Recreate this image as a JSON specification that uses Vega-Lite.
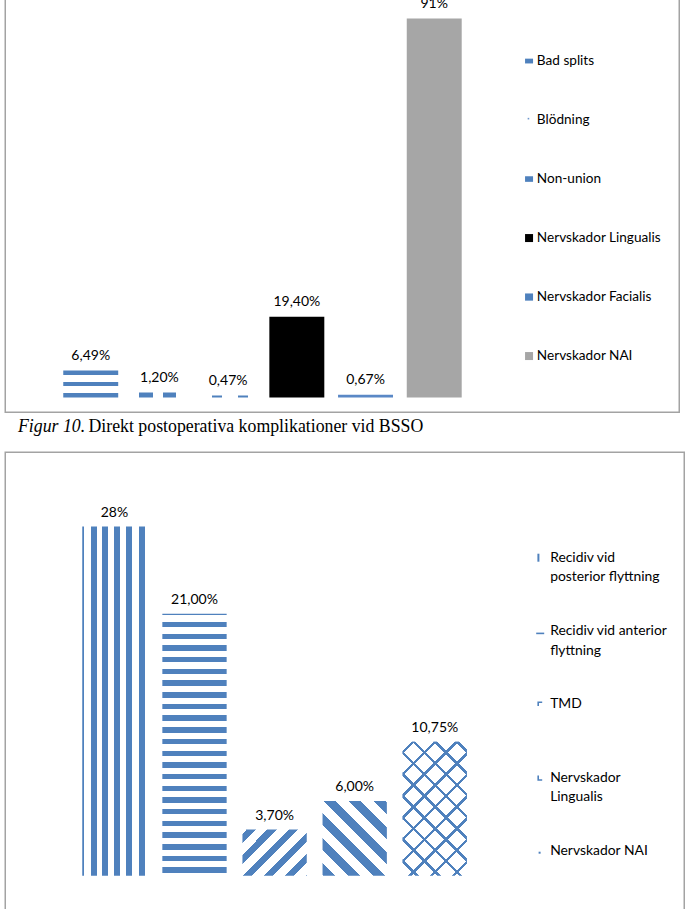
{
  "$schema": "https://vega.github.io/schema/vega-lite/v6.json",
  "background": "#ffffff",
  "padding": {"left": 4.25, "top": -8.75, "right": 0, "bottom": 0},
  "spacing": 5,
  "config": {
    "view": {"stroke": "#a3a3a3", "strokeWidth": 1.5},
    "font": "Lato",
    "style": {"guide-label": {"lineHeight": 19.5}}
  },
  "resolve": {
    "scale": {"x": "independent", "y": "independent", "color": "independent", "shape": "independent"},
    "legend": {"color": "independent", "shape": "independent"}
  },
  "datasets": {
    "topp": [
      {"komplikation": "Bad splits", "andel": 6.49, "etikett": "6,49%"},
      {"komplikation": "Blödning", "andel": 1.2, "etikett": "1,20%"},
      {"komplikation": "Non-union", "andel": 0.47, "etikett": "0,47%"},
      {"komplikation": "Nervskador Lingualis", "andel": 19.4, "etikett": "19,40%"},
      {"komplikation": "Nervskador Facialis", "andel": 0.67, "etikett": "0,67%"},
      {"komplikation": "Nervskador NAI", "andel": 91, "etikett": "91%"}
    ],
    "rubrik": [
      {"figur": "Figur 10.", "text": "Direkt postoperativa komplikationer vid BSSO"}
    ],
    "botten": [
      {"komplikation": "Recidiv vid posterior flyttning", "andel": 28, "etikett": "28%"},
      {"komplikation": "Recidiv vid anterior flyttning", "andel": 21, "etikett": "21,00%"},
      {"komplikation": "TMD", "andel": 3.7, "etikett": "3,70%"},
      {"komplikation": "Nervskador Lingualis", "andel": 6, "etikett": "6,00%"},
      {"komplikation": "Nervskador NAI", "andel": 10.75, "etikett": "10,75%"}
    ]
  },
  "vconcat": [
    {
      "width": 674,
      "height": 420,
      "data": {"name": "topp"},
      "encoding": {
        "x": {"field": "komplikation", "type": "nominal", "sort": null, "axis": null,
          "scale": {"domain": ["Bad splits", "Blödning", "Non-union", "Nervskador Lingualis", "Nervskador Facialis", "Nervskador NAI"], "range": [51.13, 463.33], "paddingInner": 0.2, "paddingOuter": 0.1}},
        "y": {"field": "andel", "type": "quantitative", "axis": null,
          "scale": {"domain": [-3.53, 97.32], "nice": false, "zero": false}}
      },
      "layer": [
        {"transform": [{"filter": "datum.komplikation === 'Bad splits'"}],
         "mark": {"type": "bar", "fill": {"gradient": "linear", "x1": 0, "y1": 0, "x2": 0, "y2": 1, "stops": [
           {"offset": 0, "color": "#4F81BD"}, {"offset": 0.15, "color": "#4F81BD"}, {"offset": 0.15, "color": "#FFFFFF"},
           {"offset": 0.41, "color": "#FFFFFF"}, {"offset": 0.41, "color": "#4F81BD"}, {"offset": 0.56, "color": "#4F81BD"},
           {"offset": 0.56, "color": "#FFFFFF"}, {"offset": 0.85, "color": "#FFFFFF"}, {"offset": 0.85, "color": "#4F81BD"},
           {"offset": 1, "color": "#4F81BD"}]}}},
        {"transform": [{"filter": "datum.komplikation === 'Blödning'"}],
         "mark": {"type": "bar", "fill": {"gradient": "linear", "x1": 0, "y1": 0, "x2": 1, "y2": 0, "stops": [
           {"offset": 0, "color": "#FFFFFF"}, {"offset": 0.136, "color": "#FFFFFF"}, {"offset": 0.136, "color": "#4F81BD"},
           {"offset": 0.39, "color": "#4F81BD"}, {"offset": 0.39, "color": "#FFFFFF"}, {"offset": 0.573, "color": "#FFFFFF"},
           {"offset": 0.573, "color": "#4F81BD"}, {"offset": 0.809, "color": "#4F81BD"}, {"offset": 0.809, "color": "#FFFFFF"},
           {"offset": 1, "color": "#FFFFFF"}]}}},
        {"transform": [{"filter": "datum.komplikation === 'Non-union'"}],
         "mark": {"type": "bar", "fill": {"gradient": "linear", "x1": 0, "y1": 0, "x2": 1, "y2": 0, "stops": [
           {"offset": 0, "color": "#FFFFFF"}, {"offset": 0.209, "color": "#FFFFFF"}, {"offset": 0.209, "color": "#4F81BD"},
           {"offset": 0.39, "color": "#4F81BD"}, {"offset": 0.39, "color": "#FFFFFF"}, {"offset": 0.68, "color": "#FFFFFF"},
           {"offset": 0.68, "color": "#4F81BD"}, {"offset": 0.864, "color": "#4F81BD"}, {"offset": 0.864, "color": "#FFFFFF"},
           {"offset": 1, "color": "#FFFFFF"}]}}},
        {"transform": [{"filter": "datum.komplikation === 'Nervskador Lingualis'"}],
         "mark": {"type": "bar", "fill": "#000000"}},
        {"transform": [{"filter": "datum.komplikation === 'Nervskador Facialis'"}],
         "mark": {"type": "bar", "fill": "#5A88C6"}},
        {"transform": [{"filter": "datum.komplikation === 'Nervskador NAI'"}],
         "mark": {"type": "bar", "fill": "#A6A6A6"}},
        {"mark": {"type": "text", "baseline": "alphabetic", "dy": -10.5, "fontSize": 14, "font": "Lato", "color": "#000000"},
         "encoding": {"text": {"field": "etikett", "type": "nominal"}}},
        {"mark": {"type": "point", "filled": true, "opacity": 0, "size": 64},
         "encoding": {
           "color": {"field": "komplikation", "type": "nominal", "sort": null,
             "scale": {"domain": ["Bad splits", "Blödning", "Non-union", "Nervskador Lingualis", "Nervskador Facialis", "Nervskador NAI"],
                       "range": ["#4F81BD", "#6F97CC", "#4F81BD", "#000000", "#4F81BD", "#A6A6A6"]},
             "legend": {"orient": "none", "legendX": 517, "legendY": 62, "title": null, "symbolSize": 64, "symbolOpacity": 1, "symbolStrokeWidth": 0,
                        "labelFont": "Lato", "labelFontSize": 13.6, "labelColor": "#000000", "labelOffset": 1, "rowPadding": 44, "padding": 0, "labelLimit": 200}},
           "shape": {"field": "komplikation", "type": "nominal", "sort": null,
             "scale": {"domain": ["Bad splits", "Blödning", "Non-union", "Nervskador Lingualis", "Nervskador Facialis", "Nervskador NAI"],
                       "range": ["M-1,-0.6H1V0.6H-1Z", "M-0.35,-0.55H0.05V-0.15H-0.35Z", "M-1,-0.7H1V0.7H-1Z", "M-1,-1H1V1H-1Z", "M-1,-0.9H1V0.9H-1Z", "M-1,-1H1V1H-1Z"]},
             "legend": {"orient": "none", "legendX": 517, "legendY": 62, "title": null, "symbolSize": 64, "symbolOpacity": 1, "symbolStrokeWidth": 0,
                        "labelFont": "Lato", "labelFontSize": 13.6, "labelColor": "#000000", "labelOffset": 1, "rowPadding": 44, "padding": 0, "labelLimit": 200}}
         }}
      ]
    },
    {
      "width": 25.5,
      "height": 28,
      "view": {"stroke": null, "fill": "#ffffff"},
      "data": {"name": "rubrik"},
      "layer": [
        {"mark": {"type": "text", "align": "left", "baseline": "alphabetic", "font": "Liberation Serif", "fontSize": 17.8, "fontStyle": "italic", "color": "#000000"},
         "encoding": {"text": {"field": "figur", "type": "nominal"}}},
        {"mark": {"type": "text", "align": "left", "baseline": "alphabetic", "font": "Liberation Serif", "fontSize": 17.8, "dx": 70.5, "color": "#000000"},
         "encoding": {"text": {"field": "text", "type": "nominal"}}}
      ]
    },
    {
      "width": 679,
      "height": 465,
      "data": {"name": "botten"},
      "encoding": {
        "x": {"field": "komplikation", "type": "nominal", "sort": null, "axis": null,
          "scale": {"domain": ["Recidiv vid posterior flyttning", "Recidiv vid anterior flyttning", "TMD", "Nervskador Lingualis", "Nervskador NAI"], "range": [69.1, 469.6], "paddingInner": 0.197, "paddingOuter": 0.0985}},
        "y": {"field": "andel", "type": "quantitative", "axis": null,
          "scale": {"domain": [-3.33, 33.96], "nice": false, "zero": false}}
      },
      "layer": [
        {"transform": [{"filter": "datum.komplikation === 'Recidiv vid posterior flyttning'"}],
         "mark": {"type": "bar", "fill": {"gradient": "linear", "x1": 0, "y1": 0, "x2": 1, "y2": 0, "stops": [
           {"offset": 0, "color": "#4F81BD"}, {"offset": 0.03, "color": "#4F81BD"}, {"offset": 0.03, "color": "#FFFFFF"},
           {"offset": 0.133, "color": "#FFFFFF"}, {"offset": 0.133, "color": "#4F81BD"}, {"offset": 0.227, "color": "#4F81BD"}, {"offset": 0.227, "color": "#FFFFFF"},
           {"offset": 0.313, "color": "#FFFFFF"}, {"offset": 0.313, "color": "#4F81BD"}, {"offset": 0.406, "color": "#4F81BD"}, {"offset": 0.406, "color": "#FFFFFF"},
           {"offset": 0.5, "color": "#FFFFFF"}, {"offset": 0.5, "color": "#4F81BD"}, {"offset": 0.594, "color": "#4F81BD"}, {"offset": 0.594, "color": "#FFFFFF"},
           {"offset": 0.6875, "color": "#FFFFFF"}, {"offset": 0.6875, "color": "#4F81BD"}, {"offset": 0.781, "color": "#4F81BD"}, {"offset": 0.781, "color": "#FFFFFF"},
           {"offset": 0.875, "color": "#FFFFFF"}, {"offset": 0.875, "color": "#4F81BD"}, {"offset": 0.969, "color": "#4F81BD"}, {"offset": 0.969, "color": "#FFFFFF"},
           {"offset": 1, "color": "#FFFFFF"}]}}},
        {"transform": [{"filter": "datum.komplikation === 'Recidiv vid anterior flyttning'"}],
         "mark": {"type": "bar", "fill": {"gradient": "linear", "x1": 0, "y1": 0, "x2": 0, "y2": 1, "stops": [
           {"offset": 0, "color": "#4F81BD"}, {"offset": 0.006, "color": "#4F81BD"}, {"offset": 0.006, "color": "#FFFFFF"},
           {"offset": 0.0305, "color": "#FFFFFF"}, {"offset": 0.0305, "color": "#4F81BD"}, {"offset": 0.0515, "color": "#4F81BD"}, {"offset": 0.0515, "color": "#FFFFFF"},
           {"offset": 0.0752, "color": "#FFFFFF"}, {"offset": 0.0752, "color": "#4F81BD"}, {"offset": 0.0962, "color": "#4F81BD"}, {"offset": 0.0962, "color": "#FFFFFF"},
           {"offset": 0.1198, "color": "#FFFFFF"}, {"offset": 0.1198, "color": "#4F81BD"}, {"offset": 0.1408, "color": "#4F81BD"}, {"offset": 0.1408, "color": "#FFFFFF"},
           {"offset": 0.1645, "color": "#FFFFFF"}, {"offset": 0.1645, "color": "#4F81BD"}, {"offset": 0.1855, "color": "#4F81BD"}, {"offset": 0.1855, "color": "#FFFFFF"},
           {"offset": 0.2092, "color": "#FFFFFF"}, {"offset": 0.2092, "color": "#4F81BD"}, {"offset": 0.2302, "color": "#4F81BD"}, {"offset": 0.2302, "color": "#FFFFFF"},
           {"offset": 0.2538, "color": "#FFFFFF"}, {"offset": 0.2538, "color": "#4F81BD"}, {"offset": 0.2748, "color": "#4F81BD"}, {"offset": 0.2748, "color": "#FFFFFF"},
           {"offset": 0.2985, "color": "#FFFFFF"}, {"offset": 0.2985, "color": "#4F81BD"}, {"offset": 0.3195, "color": "#4F81BD"}, {"offset": 0.3195, "color": "#FFFFFF"},
           {"offset": 0.3431, "color": "#FFFFFF"}, {"offset": 0.3431, "color": "#4F81BD"}, {"offset": 0.3641, "color": "#4F81BD"}, {"offset": 0.3641, "color": "#FFFFFF"},
           {"offset": 0.3878, "color": "#FFFFFF"}, {"offset": 0.3878, "color": "#4F81BD"}, {"offset": 0.4088, "color": "#4F81BD"}, {"offset": 0.4088, "color": "#FFFFFF"},
           {"offset": 0.4324, "color": "#FFFFFF"}, {"offset": 0.4324, "color": "#4F81BD"}, {"offset": 0.4534, "color": "#4F81BD"}, {"offset": 0.4534, "color": "#FFFFFF"},
           {"offset": 0.4771, "color": "#FFFFFF"}, {"offset": 0.4771, "color": "#4F81BD"}, {"offset": 0.4981, "color": "#4F81BD"}, {"offset": 0.4981, "color": "#FFFFFF"},
           {"offset": 0.5218, "color": "#FFFFFF"}, {"offset": 0.5218, "color": "#4F81BD"}, {"offset": 0.5427, "color": "#4F81BD"}, {"offset": 0.5427, "color": "#FFFFFF"},
           {"offset": 0.5664, "color": "#FFFFFF"}, {"offset": 0.5664, "color": "#4F81BD"}, {"offset": 0.5874, "color": "#4F81BD"}, {"offset": 0.5874, "color": "#FFFFFF"},
           {"offset": 0.6111, "color": "#FFFFFF"}, {"offset": 0.6111, "color": "#4F81BD"}, {"offset": 0.6321, "color": "#4F81BD"}, {"offset": 0.6321, "color": "#FFFFFF"},
           {"offset": 0.6557, "color": "#FFFFFF"}, {"offset": 0.6557, "color": "#4F81BD"}, {"offset": 0.6767, "color": "#4F81BD"}, {"offset": 0.6767, "color": "#FFFFFF"},
           {"offset": 0.7004, "color": "#FFFFFF"}, {"offset": 0.7004, "color": "#4F81BD"}, {"offset": 0.7214, "color": "#4F81BD"}, {"offset": 0.7214, "color": "#FFFFFF"},
           {"offset": 0.7450, "color": "#FFFFFF"}, {"offset": 0.7450, "color": "#4F81BD"}, {"offset": 0.7660, "color": "#4F81BD"}, {"offset": 0.7660, "color": "#FFFFFF"},
           {"offset": 0.7897, "color": "#FFFFFF"}, {"offset": 0.7897, "color": "#4F81BD"}, {"offset": 0.8107, "color": "#4F81BD"}, {"offset": 0.8107, "color": "#FFFFFF"},
           {"offset": 0.8344, "color": "#FFFFFF"}, {"offset": 0.8344, "color": "#4F81BD"}, {"offset": 0.8553, "color": "#4F81BD"}, {"offset": 0.8553, "color": "#FFFFFF"},
           {"offset": 0.8790, "color": "#FFFFFF"}, {"offset": 0.8790, "color": "#4F81BD"}, {"offset": 0.9000, "color": "#4F81BD"}, {"offset": 0.9000, "color": "#FFFFFF"},
           {"offset": 0.9237, "color": "#FFFFFF"}, {"offset": 0.9237, "color": "#4F81BD"}, {"offset": 0.9447, "color": "#4F81BD"}, {"offset": 0.9447, "color": "#FFFFFF"},
           {"offset": 0.9683, "color": "#FFFFFF"}, {"offset": 0.9683, "color": "#4F81BD"}, {"offset": 0.9893, "color": "#4F81BD"}, {"offset": 0.9893, "color": "#FFFFFF"},
           {"offset": 1, "color": "#FFFFFF"}]}}},
        {"transform": [{"filter": "datum.komplikation === 'TMD'"}],
         "mark": {"type": "bar", "fill": {"gradient": "linear", "x1": 0, "y1": 0, "x2": 1.135, "y2": 0.8118, "stops": [
           {"offset": 0, "color": "#FFFFFF"}, {"offset": 0.036, "color": "#FFFFFF"}, {"offset": 0.036, "color": "#4F81BD"}, {"offset": 0.122, "color": "#4F81BD"}, {"offset": 0.122, "color": "#FFFFFF"},
           {"offset": 0.226, "color": "#FFFFFF"}, {"offset": 0.226, "color": "#4F81BD"}, {"offset": 0.3125, "color": "#4F81BD"}, {"offset": 0.3125, "color": "#FFFFFF"},
           {"offset": 0.417, "color": "#FFFFFF"}, {"offset": 0.417, "color": "#4F81BD"}, {"offset": 0.503, "color": "#4F81BD"}, {"offset": 0.503, "color": "#FFFFFF"},
           {"offset": 0.607, "color": "#FFFFFF"}, {"offset": 0.607, "color": "#4F81BD"}, {"offset": 0.693, "color": "#4F81BD"}, {"offset": 0.693, "color": "#FFFFFF"},
           {"offset": 0.797, "color": "#FFFFFF"}, {"offset": 0.797, "color": "#4F81BD"}, {"offset": 0.883, "color": "#4F81BD"}, {"offset": 0.883, "color": "#FFFFFF"},
           {"offset": 0.987, "color": "#FFFFFF"}, {"offset": 0.987, "color": "#4F81BD"}, {"offset": 1, "color": "#4F81BD"}]}}},
        {"transform": [{"filter": "datum.komplikation === 'Nervskador Lingualis'"}],
         "mark": {"type": "bar", "fill": {"gradient": "linear", "x1": 0, "y1": 1, "x2": 0.9192, "y2": -0.0693, "stops": [
           {"offset": 0, "color": "#FFFFFF"}, {"offset": 0.0072, "color": "#FFFFFF"}, {"offset": 0.0072, "color": "#4F81BD"}, {"offset": 0.0935, "color": "#4F81BD"}, {"offset": 0.0935, "color": "#FFFFFF"},
           {"offset": 0.187, "color": "#FFFFFF"}, {"offset": 0.187, "color": "#4F81BD"}, {"offset": 0.273, "color": "#4F81BD"}, {"offset": 0.273, "color": "#FFFFFF"},
           {"offset": 0.367, "color": "#FFFFFF"}, {"offset": 0.367, "color": "#4F81BD"}, {"offset": 0.453, "color": "#4F81BD"}, {"offset": 0.453, "color": "#FFFFFF"},
           {"offset": 0.546, "color": "#FFFFFF"}, {"offset": 0.546, "color": "#4F81BD"}, {"offset": 0.633, "color": "#4F81BD"}, {"offset": 0.633, "color": "#FFFFFF"},
           {"offset": 0.726, "color": "#FFFFFF"}, {"offset": 0.726, "color": "#4F81BD"}, {"offset": 0.812, "color": "#4F81BD"}, {"offset": 0.812, "color": "#FFFFFF"},
           {"offset": 0.906, "color": "#FFFFFF"}, {"offset": 0.906, "color": "#4F81BD"}, {"offset": 0.992, "color": "#4F81BD"}, {"offset": 0.992, "color": "#FFFFFF"},
           {"offset": 1, "color": "#FFFFFF"}]}}},
        {"transform": [{"filter": "datum.komplikation === 'Nervskador NAI'"}],
         "mark": {"type": "bar", "fill": {"gradient": "linear", "x1": 0, "y1": 0, "x2": 0.5772, "y2": 1.2028, "stops": [
           {"offset": 0, "color": "#FFFFFF"}, {"offset": 0.0461, "color": "#FFFFFF"}, {"offset": 0.0461, "color": "#4F81BD"}, {"offset": 0.0638, "color": "#4F81BD"}, {"offset": 0.0638, "color": "#FFFFFF"},
           {"offset": 0.1556, "color": "#FFFFFF"}, {"offset": 0.1556, "color": "#4F81BD"}, {"offset": 0.1732, "color": "#4F81BD"}, {"offset": 0.1732, "color": "#FFFFFF"},
           {"offset": 0.2650, "color": "#FFFFFF"}, {"offset": 0.2650, "color": "#4F81BD"}, {"offset": 0.2827, "color": "#4F81BD"}, {"offset": 0.2827, "color": "#FFFFFF"},
           {"offset": 0.3744, "color": "#FFFFFF"}, {"offset": 0.3744, "color": "#4F81BD"}, {"offset": 0.3921, "color": "#4F81BD"}, {"offset": 0.3921, "color": "#FFFFFF"},
           {"offset": 0.4839, "color": "#FFFFFF"}, {"offset": 0.4839, "color": "#4F81BD"}, {"offset": 0.5015, "color": "#4F81BD"}, {"offset": 0.5015, "color": "#FFFFFF"},
           {"offset": 0.5933, "color": "#FFFFFF"}, {"offset": 0.5933, "color": "#4F81BD"}, {"offset": 0.6109, "color": "#4F81BD"}, {"offset": 0.6109, "color": "#FFFFFF"},
           {"offset": 0.7027, "color": "#FFFFFF"}, {"offset": 0.7027, "color": "#4F81BD"}, {"offset": 0.7204, "color": "#4F81BD"}, {"offset": 0.7204, "color": "#FFFFFF"},
           {"offset": 0.8122, "color": "#FFFFFF"}, {"offset": 0.8122, "color": "#4F81BD"}, {"offset": 0.8298, "color": "#4F81BD"}, {"offset": 0.8298, "color": "#FFFFFF"},
           {"offset": 0.9216, "color": "#FFFFFF"}, {"offset": 0.9216, "color": "#4F81BD"}, {"offset": 0.9392, "color": "#4F81BD"}, {"offset": 0.9392, "color": "#FFFFFF"},
           {"offset": 1, "color": "#FFFFFF"}]}}},
        {"transform": [{"filter": "datum.komplikation === 'Nervskador NAI'"}],
         "mark": {"type": "bar", "fill": {"gradient": "linear", "x1": 0, "y1": 1, "x2": 0.5772, "y2": -0.2028, "stops": [
           {"offset": 0, "color": "rgba(255,255,255,0)"}, {"offset": 0.0653, "color": "rgba(255,255,255,0)"}, {"offset": 0.0653, "color": "#4F81BD"}, {"offset": 0.0830, "color": "#4F81BD"}, {"offset": 0.0830, "color": "rgba(255,255,255,0)"},
           {"offset": 0.1747, "color": "rgba(255,255,255,0)"}, {"offset": 0.1747, "color": "#4F81BD"}, {"offset": 0.1924, "color": "#4F81BD"}, {"offset": 0.1924, "color": "rgba(255,255,255,0)"},
           {"offset": 0.2842, "color": "rgba(255,255,255,0)"}, {"offset": 0.2842, "color": "#4F81BD"}, {"offset": 0.3018, "color": "#4F81BD"}, {"offset": 0.3018, "color": "rgba(255,255,255,0)"},
           {"offset": 0.3936, "color": "rgba(255,255,255,0)"}, {"offset": 0.3936, "color": "#4F81BD"}, {"offset": 0.4112, "color": "#4F81BD"}, {"offset": 0.4112, "color": "rgba(255,255,255,0)"},
           {"offset": 0.5030, "color": "rgba(255,255,255,0)"}, {"offset": 0.5030, "color": "#4F81BD"}, {"offset": 0.5207, "color": "#4F81BD"}, {"offset": 0.5207, "color": "rgba(255,255,255,0)"},
           {"offset": 0.6125, "color": "rgba(255,255,255,0)"}, {"offset": 0.6125, "color": "#4F81BD"}, {"offset": 0.6301, "color": "#4F81BD"}, {"offset": 0.6301, "color": "rgba(255,255,255,0)"},
           {"offset": 0.7219, "color": "rgba(255,255,255,0)"}, {"offset": 0.7219, "color": "#4F81BD"}, {"offset": 0.7395, "color": "#4F81BD"}, {"offset": 0.7395, "color": "rgba(255,255,255,0)"},
           {"offset": 0.8313, "color": "rgba(255,255,255,0)"}, {"offset": 0.8313, "color": "#4F81BD"}, {"offset": 0.8490, "color": "#4F81BD"}, {"offset": 0.8490, "color": "rgba(255,255,255,0)"},
           {"offset": 0.9407, "color": "rgba(255,255,255,0)"}, {"offset": 0.9407, "color": "#4F81BD"}, {"offset": 0.9584, "color": "#4F81BD"}, {"offset": 0.9584, "color": "rgba(255,255,255,0)"},
           {"offset": 1, "color": "rgba(255,255,255,0)"}]}}},
        {"mark": {"type": "text", "baseline": "alphabetic", "dy": -10, "fontSize": 14, "font": "Lato", "color": "#000000"},
         "encoding": {"text": {"field": "etikett", "type": "nominal"}}},
        {"mark": {"type": "point", "filled": true, "opacity": 0, "size": 64},
         "encoding": {
           "color": {"field": "komplikation", "type": "nominal", "sort": null,
             "scale": {"domain": ["Recidiv vid posterior flyttning", "Recidiv vid anterior flyttning", "TMD", "Nervskador Lingualis", "Nervskador NAI"],
                       "range": ["#4F81BD", "#4F81BD", "#4F81BD", "#4F81BD", "#4F81BD"]},
             "legend": {"orient": "none", "legendX": 528, "legendY": 98.5, "title": null, "symbolSize": 64, "symbolOpacity": 1, "symbolStrokeWidth": 0,
                        "labelFont": "Lato", "labelFontSize": 13.9, "labelColor": "#000000", "labelOffset": 3, "rowPadding": 38.3, "padding": 0, "labelLimit": 200, "gridAlign": "all",
                        "labelExpr": "datum.label === 'Recidiv vid posterior flyttning' ? ['Recidiv vid', 'posterior flyttning'] : datum.label === 'Recidiv vid anterior flyttning' ? ['Recidiv vid anterior', 'flyttning'] : datum.label === 'Nervskador Lingualis' ? ['Nervskador', 'Lingualis'] : datum.label"}},
           "shape": {"field": "komplikation", "type": "nominal", "sort": null,
             "scale": {"domain": ["Recidiv vid posterior flyttning", "Recidiv vid anterior flyttning", "TMD", "Nervskador Lingualis", "Nervskador NAI"],
                       "range": ["M-0.7,-1H-0.2V1H-0.7Z", "M-1,0.4H1V0.8H-1Z", "M-0.7,-0.7H0.5V-0.3H-0.3V0.4H-0.7Z", "M-0.7,-0.5H-0.3V0.4H0.5V0.8H-0.7Z", "M-0.4,0.2H0.1V0.7H-0.4Z"]},
             "legend": {"orient": "none", "legendX": 528, "legendY": 98.5, "title": null, "symbolSize": 64, "symbolOpacity": 1, "symbolStrokeWidth": 0,
                        "labelFont": "Lato", "labelFontSize": 13.9, "labelColor": "#000000", "labelOffset": 3, "rowPadding": 38.3, "padding": 0, "labelLimit": 200, "gridAlign": "all",
                        "labelExpr": "datum.label === 'Recidiv vid posterior flyttning' ? ['Recidiv vid', 'posterior flyttning'] : datum.label === 'Recidiv vid anterior flyttning' ? ['Recidiv vid anterior', 'flyttning'] : datum.label === 'Nervskador Lingualis' ? ['Nervskador', 'Lingualis'] : datum.label"}}
         }}
      ]
    }
  ]
}
